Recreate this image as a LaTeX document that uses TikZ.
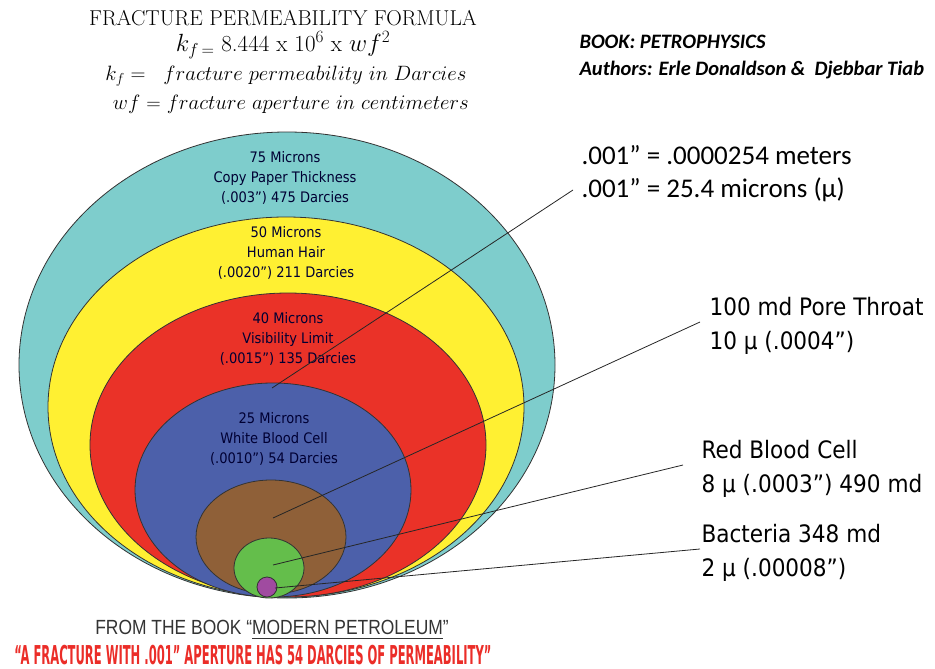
\documentclass[tikz,border=0pt]{standalone}
\usepackage{amsmath}
\usepackage{fontspec}
\usepackage{graphicx}
\usetikzlibrary{positioning}

\newfontfamily\calfont{Carlito}
\newfontfamily\tahfont{DejaVu Sans}[FakeStretch=0.9]
\newfontfamily\handfont{Liberation Sans}[FakeStretch=0.85]
\newfontfamily\impfont{DejaVu Sans}[FakeStretch=0.6]

\definecolor{paperteal}{RGB}{126,205,204}
\definecolor{hairyellow}{RGB}{255,240,50}
\definecolor{limitred}{RGB}{234,50,40}
\definecolor{wbcblue}{RGB}{76,96,170}
\definecolor{porebrown}{RGB}{143,96,56}
\definecolor{rbcgreen}{RGB}{100,190,75}
\definecolor{bactpurple}{RGB}{160,75,160}
\definecolor{inkred}{RGB}{235,45,40}

\begin{document}
\begin{tikzpicture}[x=1pt,y=-1pt,
  zone/.style={draw=black!80,line width=0.8pt},
  zonetext/.style={font=\tahfont\fontsize{14.5}{20}\selectfont,align=center,text=black!80!blue},
  lbl/.style={anchor=west,align=left,font=\tahfont\fontsize{24}{34}\selectfont},
  lead/.style={draw=black!85,line width=0.8pt}]

  \useasboundingbox (0,0) rectangle (935,669);

  % title and formula
  \node (title) at (283,18) {\fontsize{21.5}{24}\selectfont FRACTURE PERMEABILITY FORMULA};
  \node (formula) at (283,45) {\fontsize{23}{24}\selectfont $k_{f\,=}$ 8.444 x 10$^6$ x $wf^2$};
  \node (kdef) at (286,76) {\fontsize{20}{22}\selectfont $k_f =\ \ fracture\ permeability\ in\ Darcies$};
  \node (wdef) at (291,104) {\fontsize{20}{22}\selectfont $wf$ = $fracture\ aperture\ in\ centimeters$};

  \node[anchor=west,align=left,font=\calfont\bfseries\itshape\fontsize{20.5}{27}\selectfont]
    (book) at (576,57) {BOOK: PETROPHYSICS\\Authors: Erle Donaldson \&\ \ Djebbar Tiab};

  % nested apertures
  \draw[zone,fill=paperteal]  (287,365) ellipse [x radius=268,y radius=233];
  \draw[zone,fill=hairyellow] (286,407) ellipse [x radius=238,y radius=190];
  \draw[zone,fill=limitred]   (288,445) ellipse [x radius=198,y radius=152];
  \draw[zone,fill=wbcblue]    (273,490) ellipse [x radius=138,y radius=107];
  \draw[zone,fill=porebrown]  (271,537) ellipse [x radius=75,y radius=57];
  \draw[zone,fill=rbcgreen]   (269,568) ellipse [x radius=35,y radius=30];
  \draw[zone,fill=bactpurple] (267,587) circle [radius=10];

  \node[zonetext] (paper) at (285,178) {75 Microns\\Copy Paper Thickness\\(.003”) 475 Darcies};
  \node[zonetext] (hair)  at (286,253) {50 Microns\\Human Hair\\(.0020”) 211 Darcies};
  \node[zonetext] (vis)   at (288,339) {40 Microns\\Visibility Limit\\(.0015”) 135 Darcies};
  \node[zonetext] (wbc)   at (274,439) {25 Microns\\White Blood Cell\\(.0010”) 54 Darcies};

  % labels on the right
  \node[anchor=west,align=left,font=\calfont\fontsize{27}{33}\selectfont]
    (units) at (578,174) {.001” = .0000254 meters\\.001” = 25.4 microns (µ)};
  \node[lbl] (pore)  at (706,326) {100 md Pore Throat\\10 µ (.0004”)};
  \node[lbl] (rbc)   at (698,469) {Red Blood Cell\\8 µ (.0003”) 490 md};
  \node[lbl] (bact)  at (698,553) {Bacteria 348 md\\2 µ (.00008”)};

  \coordinate (d1) at (272,388);
  \coordinate (d2) at (273,518);
  \coordinate (d3) at (273,565);
  \coordinate (d4) at (275,588);
  \coordinate (e1) at (573,190);
  \coordinate (e2) at (700,322);
  \coordinate (e3) at (683,465);
  \coordinate (e4) at (700,549);

  \path[lead]
    (d1) edge (e1)
    (d2) edge (e2)
    (d3) edge (e3)
    (d4) edge (e4);

  % source lines
  \node[text=black!80,font=\handfont\fontsize{20.5}{22}\selectfont] (src) at (272,630)
    {FROM THE BOOK “\underline{MODERN PETROLEUM}”};
  \node[text=inkred,font=\impfont\bfseries\fontsize{26}{28}\selectfont] (quote) at (253,655)
    {\resizebox{477pt}{\height}{“A FRACTURE WITH .001” APERTURE HAS 54 DARCIES OF PERMEABILITY”}};
\end{tikzpicture}
\end{document}
